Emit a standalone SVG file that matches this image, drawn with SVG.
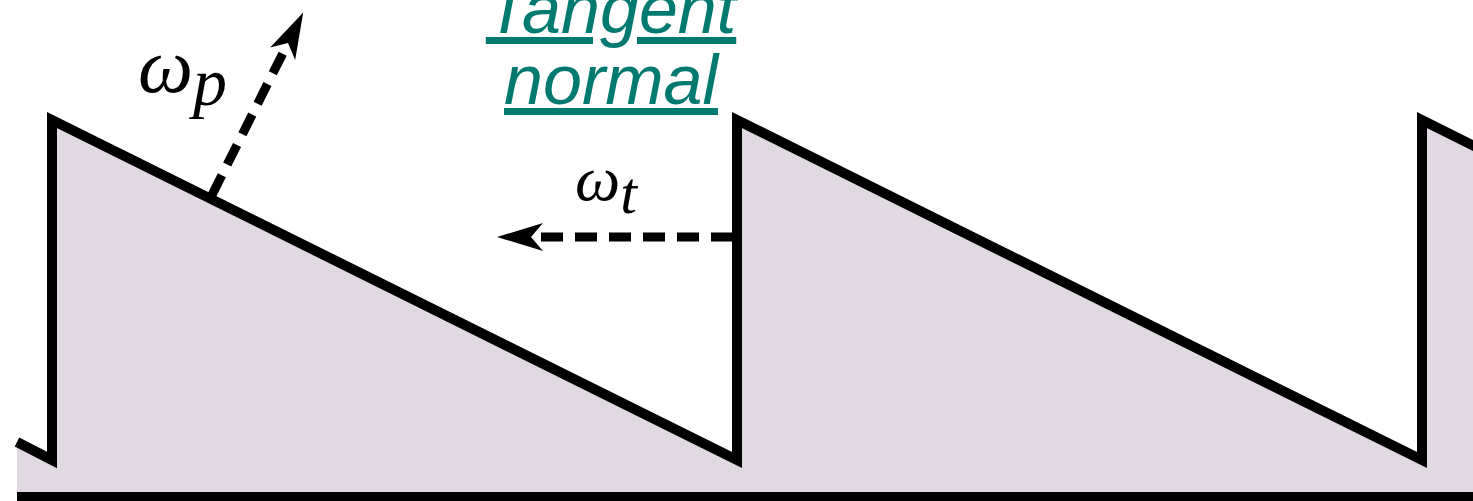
<svg xmlns="http://www.w3.org/2000/svg" width="1473" height="501" viewBox="0 0 1473 501">
  <style>
    .outline { fill: none; stroke: #000; stroke-width: 10; stroke-linejoin: miter; stroke-miterlimit: 10; }
    .fill { fill: #e1d9e2; stroke: none; }
    .dash { fill: none; stroke: #000; stroke-width: 9; stroke-dasharray: 22 12; }
    .math { font-family: "Liberation Serif", "DejaVu Serif", serif; font-style: italic; fill: #000; }
    .link { font-family: "Liberation Sans", Arial, sans-serif; font-style: italic; font-size: 70px; fill: #007a70; text-decoration: underline; }
  </style>
  <defs>
    <marker id="head" markerUnits="userSpaceOnUse" markerWidth="50" markerHeight="32" viewBox="-14 -16 50 32" refX="0" refY="0" orient="auto">
      <path d="M34,0 L-12,-14 L0,0 L-12,14 Z" fill="#000"/>
    </marker>
  </defs>
  <g id="surface">
    <polygon class="fill" points="17,442 52,460 52,120 737,460 737,120 1422,460 1422,120 1473,145 1473,497 17,497"/>
    <polyline class="outline" points="17,442 52,460 52,120 737,460 737,120 1422,460 1422,120 1480,149"/>
    <line class="outline" x1="17" y1="497" x2="1473" y2="497"/>
  </g>
  <g id="connectors">
    <line id="omega-p-arrow" class="dash" x1="212" y1="195" x2="288" y2="43" marker-end="url(#head)"/>
    <line id="omega-t-arrow" class="dash" x1="733" y1="237" x2="531" y2="237" marker-end="url(#head)"/>
  </g>
  <g id="label-omega-p">
    <text class="math" x="138" y="92" font-size="78">ω<tspan font-size="68" dy="13">p</tspan></text>
  </g>
  <g id="label-omega-t">
    <text class="math" x="575" y="200" font-size="64">ω<tspan font-size="60" dy="13">t</tspan></text>
  </g>
  <g id="label-links">
    <text class="link" x="611" y="33" text-anchor="middle">Tangent</text>
    <text class="link" x="611" y="104" text-anchor="middle">normal</text>
  </g>
</svg>
